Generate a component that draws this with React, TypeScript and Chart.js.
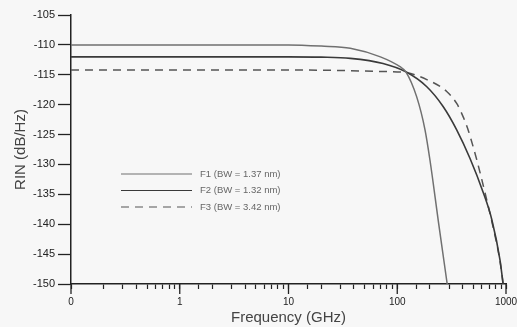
import React, { useEffect, useRef } from 'react';
import { Chart, registerables } from 'chart.js';

Chart.register(...registerables);

// ---- data ----
const f1Freq = [0.1, 1, 10, 20, 37, 70, 106, 120, 151, 180, 200, 240, 288];
const f1Rin = [-110, -110, -110, -110.2, -110.55, -112, -113.65, -114.5, -118.7, -124.2, -129.3, -139.8, -150];

const f2Freq = [0.1, 1, 10, 20, 37, 74, 120, 187, 264, 352, 467, 615, 740, 881, 940];
const f2Rin = [-112, -112, -112, -112.05, -112.25, -113.1, -114.5, -117, -120.3, -124.2, -129.0, -134.6, -139.2, -146, -150];

const f3Freq = [0.1, 1, 10, 74, 120, 187, 285, 352, 403, 448, 498, 538, 578, 683, 740, 881, 942];
const f3Rin = [-114.2, -114.2, -114.2, -114.45, -114.65, -115.8, -117.8, -119.8, -122, -124.2, -127, -129.2, -131.4, -136.8, -139.5, -146.2, -150];

const seriesLabels = ['F1 (BW = 1.37 nm)', 'F2 (BW = 1.32 nm)', 'F3 (BW = 3.42 nm)'];
const xDecades = [0.1, 1, 10, 100, 1000];
const xDecadeLabels = ['0', '1', '10', '100', '1000'];
const yMin = -150;
const yMax = -105;
const yStep = 5;
const xTitle = 'Frequency (GHz)';
const yTitle = 'RIN (dB/Hz)';

const FONT = "'Liberation Sans', Arial, sans-serif";

const toPoints = (xs: number[], ys: number[]) => xs.map((x, i) => ({ x, y: ys[i] }));

const legendPlugin = {
  id: 'insideLegend',
  afterDraw(chart: any) {
    const { ctx, chartArea } = chart;
    chart.data.datasets.forEach((ds: any, i: number) => {
      const y = chartArea.top + 159 + i * 16.5;
      const x0 = chartArea.left + 50;
      const x1 = x0 + 71;
      ctx.save();
      ctx.strokeStyle = ds.borderColor;
      ctx.lineWidth = 1.2;
      ctx.setLineDash(ds.borderDash || []);
      ctx.beginPath();
      ctx.moveTo(x0, y);
      ctx.lineTo(x1, y);
      ctx.stroke();
      ctx.setLineDash([]);
      ctx.fillStyle = '#666';
      ctx.font = `9.5px ${FONT}`;
      ctx.textBaseline = 'middle';
      ctx.textAlign = 'left';
      ctx.fillText(ds.label, x1 + 8, y);
      ctx.restore();
    });
  },
};

const majorTickPlugin = {
  id: 'majorTicks',
  afterDraw(chart: any) {
    const { ctx } = chart;
    const xs = chart.scales.x;
    ctx.save();
    ctx.strokeStyle = '#222';
    ctx.lineWidth = 1.3;
    xDecades.forEach((v) => {
      const px = xs.getPixelForValue(v);
      ctx.beginPath();
      ctx.moveTo(px, xs.top);
      ctx.lineTo(px, xs.top + 10);
      ctx.stroke();
    });
    ctx.restore();
  },
};

export default function App() {
  const ref = useRef<HTMLCanvasElement>(null);

  useEffect(() => {
    document.body.style.margin = '0';
    const canvas = ref.current!;
    const chart = new Chart(canvas, {
      type: 'line',
      data: {
        datasets: [
          {
            label: seriesLabels[0],
            data: toPoints(f1Freq, f1Rin),
            borderColor: '#707070',
            borderWidth: 1.5,
            pointRadius: 0,
            cubicInterpolationMode: 'monotone',
          },
          {
            label: seriesLabels[1],
            data: toPoints(f2Freq, f2Rin),
            borderColor: '#3a3a3a',
            borderWidth: 1.6,
            pointRadius: 0,
            cubicInterpolationMode: 'monotone',
          },
          {
            label: seriesLabels[2],
            data: toPoints(f3Freq, f3Rin),
            borderColor: '#555',
            borderWidth: 1.5,
            borderDash: [8, 6],
            pointRadius: 0,
            cubicInterpolationMode: 'monotone',
          },
        ],
      },
      options: {
        responsive: false,
        animation: false,
        layout: { padding: { top: 15, right: 11, left: 0, bottom: 0 } },
        plugins: { legend: { display: false }, tooltip: { enabled: false } },
        scales: {
          x: {
            type: 'logarithmic',
            min: 0.1,
            max: 1000,
            afterFit: (s: any) => {
              s.height = 43;
              s.paddingLeft = 0;
              s.paddingRight = 0;
            },
            border: { display: true, color: '#222', width: 1.5 },
            grid: { drawOnChartArea: false, tickLength: 5, color: '#222', tickColor: '#222', tickWidth: 1.2 },
            ticks: {
              autoSkip: false,
              maxRotation: 0,
              padding: 7,
              color: '#222',
              font: { family: FONT, size: 10 },
              callback: (value: any) => {
                const v = Number(value);
                const idx = xDecades.findIndex((d) => Math.abs(d - v) / d < 1e-6);
                return idx >= 0 ? xDecadeLabels[idx] : '';
              },
            },
            title: {
              display: true,
              text: xTitle,
              color: '#444',
              font: { family: FONT, size: 15 },
              padding: { top: 0, bottom: 0 },
            },
          },
          y: {
            type: 'linear',
            min: yMin,
            max: yMax,
            afterFit: (s: any) => {
              s.width = 71;
              s.paddingTop = 0;
              s.paddingBottom = 0;
            },
            border: { display: true, color: '#222', width: 1.5 },
            grid: { drawOnChartArea: false, tickLength: 13, color: '#222', tickColor: '#222', tickWidth: 1.3 },
            ticks: {
              stepSize: yStep,
              padding: 3,
              color: '#222',
              font: { family: FONT, size: 11 },
            },
            title: {
              display: true,
              text: yTitle,
              color: '#444',
              font: { family: FONT, size: 15 },
              padding: { top: 12, bottom: 0 },
            },
          },
        },
      },
      plugins: [legendPlugin, majorTickPlugin],
    });
    return () => chart.destroy();
  }, []);

  return (
    <div style={{ position: 'absolute', left: 0, top: 0, width: 517, height: 327, background: '#f7f7f7' }}>
      <canvas ref={ref} width={517} height={327} style={{ display: 'block', width: 517, height: 327 }} />
    </div>
  );
}
